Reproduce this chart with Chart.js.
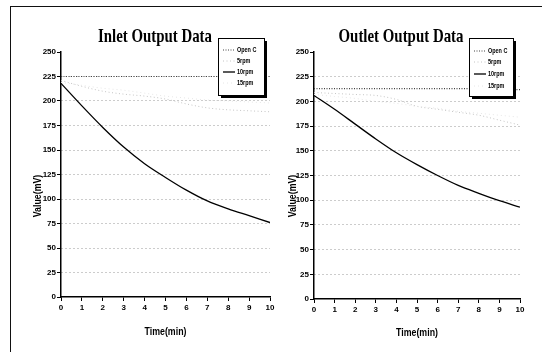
<!DOCTYPE html>
<html><head><meta charset="utf-8">
<script src="https://cdn.jsdelivr.net/npm/chart.js@4/dist/chart.umd.min.js"></script>
<style>
html,body{margin:0;padding:0;background:#fff;}
#wrap{position:relative;width:542px;height:352px;overflow:hidden;background:#fff;}
#frame{position:absolute;left:10px;top:6px;width:540px;height:350px;border-left:1.5px solid #111;border-top:1.5px solid #111;}
canvas{position:absolute;left:0;top:0;}
</style></head>
<body>
<div id="wrap"><div id="frame"></div>
<canvas id="c1" width="542" height="352"></canvas>
<canvas id="c2" width="542" height="352"></canvas>
</div>
<script>
// ---- data ----
const times = [0,1,2,3,4,5,6,7,8,9,10];
const seriesNames = ["Open C","5rpm","10rpm","15rpm"];
const yTickValues = [0,25,50,75,100,125,150,175,200,225,250];
const inlet0  = [225,225,225,225,225,225,225,225,225,225,225];
const inlet5  = [221,215,210,207,205,202,197,193,191,190,189];
const inlet10 = [218,195,173,153,136,122,109,98,90,83,76];
const inlet15 = [219,216,213,211,208,205,203,201,200,199,198];
const outlet0  = [213,213,213,213,213,213,213,213,213,212,212];
const outlet5  = [209,208,207,206,202,195,192,189,186,181,176];
const outlet10 = [206,192,177,162,148,136,125,115,107,99.5,93];
const outlet15 = [207,205,203,200,198,195,193,190,188,186,184];

const FONT = "'Liberation Sans Narrow','Liberation Sans',Arial,sans-serif";
const styles = [
  {color:'#444', dash:[1,1.5], width:1.2},
  {color:'#c4c4c4', dash:[1,2.5], width:1},
  {color:'#000', dash:[], width:1.3},
  {color:'#e6e6e6', dash:[1,3], width:1}
];

function pts(arr){ return times.map((t,i)=>({x:t,y:arr[i]})); }

function squeezeText(ctx, text, x, y, sx){
  ctx.save(); ctx.translate(x, y); ctx.scale(sx, 1); ctx.fillText(text, 0, 0); ctx.restore();
}

const deco = {
  id:'deco',
  afterDraw(chart, args, o){
    const ctx = chart.ctx, a = chart.chartArea;
    ctx.save();
    // title
    ctx.fillStyle = '#000';
    ctx.font = "bold 19px 'Liberation Serif','Times New Roman',serif";
    ctx.textAlign = 'center'; ctx.textBaseline = 'alphabetic';
    const tw = ctx.measureText(o.title).width;
    squeezeText(ctx, o.title, o.titleX, o.titleY, o.titleW / tw);
    // y axis title
    ctx.font = "bold 10px " + FONT;
    ctx.textBaseline = 'middle';
    ctx.save(); ctx.translate(o.yTitleX, o.yTitleY); ctx.rotate(-Math.PI/2);
    ctx.scale(0.88, 1); ctx.fillText('Value(mV)', 0, 0); ctx.restore();
    // x axis title
    squeezeText(ctx, 'Time(min)', (a.left + a.right)/2, o.xTitleY, 0.88);
    // legend
    const L = o.legend;
    ctx.fillStyle = '#000';
    ctx.fillRect(L.x + 3, L.y + 3, L.w, L.h);
    ctx.fillStyle = '#fff';
    ctx.fillRect(L.x, L.y, L.w, L.h);
    ctx.strokeStyle = '#000'; ctx.lineWidth = 1;
    ctx.strokeRect(L.x + 0.5, L.y + 0.5, L.w, L.h);
    ctx.font = "bold 7px " + FONT;
    ctx.textAlign = 'left'; ctx.textBaseline = 'middle';
    chart.data.datasets.forEach((ds, i) => {
      const ry = L.rows[i];
      ctx.save();
      ctx.strokeStyle = ds.borderColor; ctx.lineWidth = ds.borderWidth;
      ctx.setLineDash(ds.borderDash || []);
      ctx.beginPath(); ctx.moveTo(L.x + 5, ry); ctx.lineTo(L.x + 17, ry); ctx.stroke();
      ctx.restore();
      ctx.fillStyle = '#000';
      squeezeText(ctx, ds.label, L.x + 19, ry, 0.78);
    });
    ctx.restore();
  }
};

function makeChart(id, arrays, cfg){
  const order = [1, 3, 2, 0];
  const datasets = arrays.map((arr, i) => ({
    label: seriesNames[i],
    data: pts(arr),
    borderColor: styles[i].color,
    borderDash: styles[i].dash,
    borderWidth: styles[i].width,
    pointRadius: 0,
    cubicInterpolationMode: 'monotone',
    fill: false,
    order: order[i]
  }));
  return new Chart(document.getElementById(id), {
    type: 'line',
    data: { datasets },
    plugins: [deco],
    options: {
      responsive: false,
      animation: false,
      layout: { padding: { top: cfg.top, right: 542 - cfg.right, left: 0, bottom: 0 } },
      plugins: {
        legend: { display: false },
        tooltip: { enabled: false },
        deco: cfg.deco
      },
      scales: {
        x: {
          type: 'linear', min: 0, max: 10,
          afterFit: s => { s.height = 352 - cfg.bottom; },
          ticks: { stepSize: 1, color: '#000', font: { size: 8, weight: 'bold', family: FONT }, padding: 2, maxRotation: 0 },
          grid: { drawOnChartArea: false, tickLength: 4, tickColor: '#000', tickWidth: 1 },
          border: { color: '#000', width: 1.5 }
        },
        y: {
          min: 0, max: 250,
          afterFit: s => { s.width = cfg.left; },
          afterBuildTicks: s => { s.ticks = yTickValues.map(v => ({ value: v })); },
          ticks: { color: '#000', font: { size: 8, weight: 'bold', family: FONT }, padding: 1 },
          grid: {
            color: c => (c.tick && (c.tick.value === 0 || c.tick.value === 250)) ? 'rgba(0,0,0,0)' : '#999',
            lineWidth: 1, tickLength: 4, tickColor: '#000', tickWidth: 1
          },
          border: { color: '#000', width: 1.5, dash: [1, 3] }
        }
      }
    }
  });
}

makeChart('c1', [inlet0, inlet5, inlet10, inlet15], {
  top: 52, bottom: 297, left: 61, right: 270,
  deco: {
    title: 'Inlet Output Data', titleX: 155, titleY: 42, titleW: 114,
    yTitleX: 38, yTitleY: 196, xTitleY: 332,
    legend: { x: 218, y: 38, w: 46, h: 57, rows: [50, 61, 72, 83] }
  }
});
makeChart('c2', [outlet0, outlet5, outlet10, outlet15], {
  top: 52, bottom: 299, left: 314, right: 520,
  deco: {
    title: 'Outlet Output Data', titleX: 401, titleY: 42, titleW: 125,
    yTitleX: 293, yTitleY: 196, xTitleY: 333,
    legend: { x: 469, y: 38, w: 44, h: 58, rows: [51, 62, 74, 86] }
  }
});
</script>
</body></html>
